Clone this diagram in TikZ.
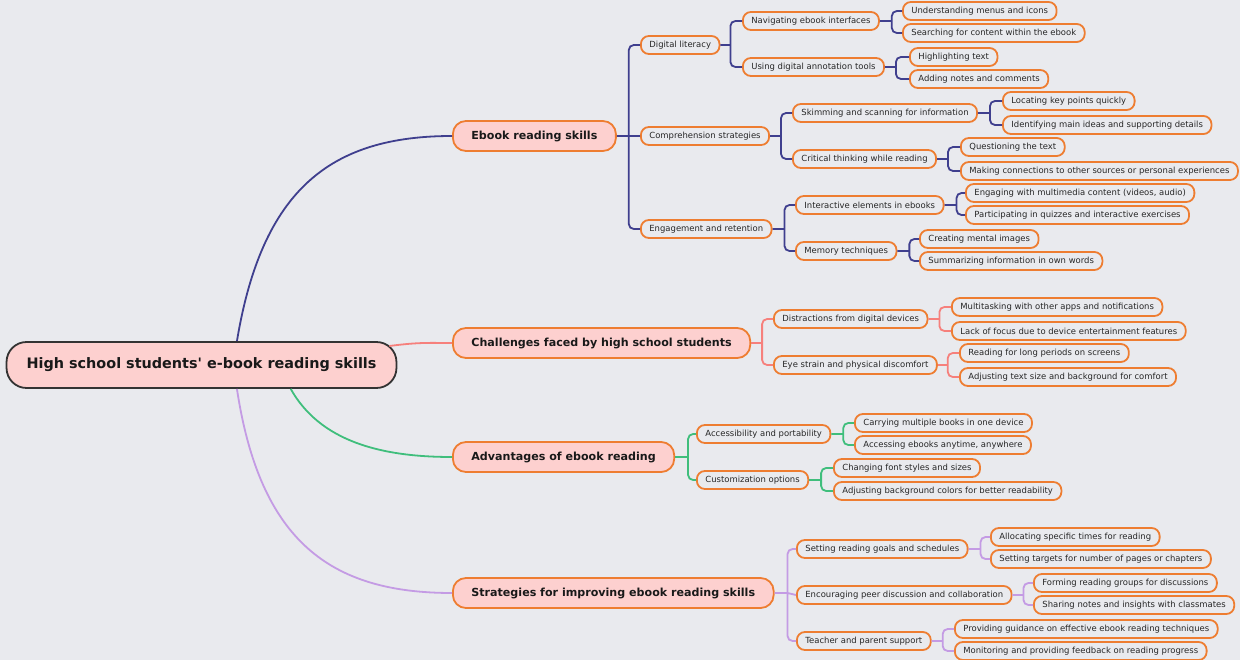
\documentclass[tikz,border=0pt]{standalone}
\usepackage{fontspec}
\setmainfont{DejaVu Sans}
\usetikzlibrary{calc,positioning}
\definecolor{bgc}{HTML}{E9EAEE}
\definecolor{pinkfill}{HTML}{FDD0CF}
\definecolor{orangeln}{HTML}{EE7D31}
\definecolor{rootln}{HTML}{333333}
\definecolor{navyln}{HTML}{3F3F8E}
\definecolor{redln}{HTML}{F6807C}
\definecolor{greenln}{HTML}{3FBE7C}
\definecolor{purpleln}{HTML}{C49BE4}

\begin{document}
\begin{tikzpicture}[x=1pt, y=-1pt,
  rootbox/.style={draw=rootln, line width=1.8pt, fill=pinkfill, rounded corners=20pt, minimum height=46pt, inner xsep=20pt, font=\fontsize{14.4pt}{17pt}\selectfont\bfseries, text=black!90},
  mainbox/.style={draw=orangeln, line width=1.8pt, fill=pinkfill, rounded corners=13pt, minimum height=30pt, inner xsep=18.5pt, anchor=west, font=\fontsize{11.1pt}{13pt}\selectfont\bfseries, text=black!90},
  subbox/.style={draw=orangeln, line width=1.8pt, fill=bgc, rounded corners=8pt, minimum height=18pt, inner ysep=0pt, inner xsep=8.5pt, anchor=west, font=\fontsize{8.45pt}{10pt}\selectfont, text=black!85},
  link/.style={line width=1.8pt, rounded corners=5pt},
  eblink/.style={link, navyln},
  chlink/.style={link, redln},
  adlink/.style={link, greenln},
  stlink/.style={link, purpleln}
]
\fill[bgc] (0,0) rectangle (1240,660);
\useasboundingbox (0,0) rectangle (1240,660);

% centre and main topics
\node[rootbox] (root) at (201.5,365) {High school students\textquotesingle{} e-book reading skills};
\node[mainbox] (ebook) at (452,136) {Ebook reading skills};
\node[mainbox] (chal) at (452,343) {Challenges faced by high school students};
\node[mainbox] (adv) at (452,457) {Advantages of ebook reading};
\node[mainbox] (strat) at (452,593) {Strategies for improving ebook reading skills};

\draw[eblink] (root.34) .. controls (262,190) and (330,136) .. (ebook.west);
\draw[chlink] ($(root.east)+(-8,-19)$) .. controls (420,342) and (430,343) .. (chal.west);
\draw[adlink] (root.-15) .. controls (320,441) and (380,457) .. (adv.west);
\draw[stlink] (root.-34) .. controls (260,541) and (330,593) .. (strat.west);

% ebook reading skills
\node[subbox] (digital) at (640,45) {Digital literacy};
\node[subbox] (comp) at (640,136) {Comprehension strategies};
\node[subbox] (engage) at (640,229) {Engagement and retention};
\node[subbox] (nav) at (742,21) {Navigating ebook interfaces};
\node[subbox] (annot) at (742,67) {Using digital annotation tools};
\node[subbox] (nav1) at (902,11) {Understanding menus and icons};
\node[subbox] (nav2) at (902,33) {Searching for content within the ebook};
\node[subbox] (annot1) at (909,57) {Highlighting text};
\node[subbox] (annot2) at (909,79) {Adding notes and comments};
\node[subbox] (skim) at (792,113) {Skimming and scanning for information};
\node[subbox] (crit) at (792,159) {Critical thinking while reading};
\node[subbox] (skim1) at (1002,101) {Locating key points quickly};
\node[subbox] (skim2) at (1002,125) {Identifying main ideas and supporting details};
\node[subbox] (crit1) at (960,147) {Questioning the text};
\node[subbox] (crit2) at (960,171) {Making connections to other sources or personal experiences};
\node[subbox] (inter) at (795,205) {Interactive elements in ebooks};
\node[subbox] (memo) at (795,251) {Memory techniques};
\node[subbox] (inter1) at (965,193) {Engaging with multimedia content (videos, audio)};
\node[subbox] (inter2) at (965,215) {Participating in quizzes and interactive exercises};
\node[subbox] (memo1) at (919,239) {Creating mental images};
\node[subbox] (memo2) at (919,261) {Summarizing information in own words};

\draw[eblink] (ebook.east) -- ++(12,0) coordinate (ebook-j) (ebook-j) |- (digital.west) (ebook-j) -- (comp.west) (ebook-j) |- (engage.west);
\draw[eblink] (digital.east) -- ++(10,0) coordinate (digital-j) (digital-j) |- (nav.west) (digital-j) |- (annot.west);
\draw[eblink] (nav.east) -- ++(12,0) coordinate (nav-j) (nav-j) |- (nav1.west) (nav-j) |- (nav2.west);
\draw[eblink] (annot.east) -- ++(11,0) coordinate (annot-j) (annot-j) |- (annot1.west) (annot-j) |- (annot2.west);
\draw[eblink] (comp.east) -- ++(11,0) coordinate (comp-j) (comp-j) |- (skim.west) (comp-j) |- (crit.west);
\draw[eblink] (skim.east) -- ++(12,0) coordinate (skim-j) (skim-j) |- (skim1.west) (skim-j) |- (skim2.west);
\draw[eblink] (crit.east) -- ++(11,0) coordinate (crit-j) (crit-j) |- (crit1.west) (crit-j) |- (crit2.west);
\draw[eblink] (engage.east) -- ++(12,0) coordinate (engage-j) (engage-j) |- (inter.west) (engage-j) |- (memo.west);
\draw[eblink] (inter.east) -- ++(12,0) coordinate (inter-j) (inter-j) |- (inter1.west) (inter-j) |- (inter2.west);
\draw[eblink] (memo.east) -- ++(12,0) coordinate (memo-j) (memo-j) |- (memo1.west) (memo-j) |- (memo2.west);

% challenges
\node[subbox] (distr) at (773,319) {Distractions from digital devices};
\node[subbox] (eye) at (773,365) {Eye strain and physical discomfort};
\node[subbox] (distr1) at (951,307) {Multitasking with other apps and notifications};
\node[subbox] (distr2) at (951,331) {Lack of focus due to device entertainment features};
\node[subbox] (eye1) at (959,353) {Reading for long periods on screens};
\node[subbox] (eye2) at (959,377) {Adjusting text size and background for comfort};

\draw[chlink] (chal.east) -- ++(11,0) coordinate (chal-j) (chal-j) |- (distr.west) (chal-j) |- (eye.west);
\draw[chlink] (distr.east) -- ++(11,0) coordinate (distr-j) (distr-j) |- (distr1.west) (distr-j) |- (distr2.west);
\draw[chlink] (eye.east) -- ++(10,0) coordinate (eye-j) (eye-j) |- (eye1.west) (eye-j) |- (eye2.west);

% advantages
\node[subbox] (access) at (696,434) {Accessibility and portability};
\node[subbox] (custom) at (696,480) {Customization options};
\node[subbox] (access1) at (854,423) {Carrying multiple books in one device};
\node[subbox] (access2) at (854,445) {Accessing ebooks anytime, anywhere};
\node[subbox] (custom1) at (833,468) {Changing font styles and sizes};
\node[subbox] (custom2) at (833,491) {Adjusting background colors for better readability};

\draw[adlink] (adv.east) -- ++(13,0) coordinate (adv-j) (adv-j) |- (access.west) (adv-j) |- (custom.west);
\draw[adlink] (access.east) -- ++(12,0) coordinate (access-j) (access-j) |- (access1.west) (access-j) |- (access2.west);
\draw[adlink] (custom.east) -- ++(12,0) coordinate (custom-j) (custom-j) |- (custom1.west) (custom-j) |- (custom2.west);

% strategies
\node[subbox] (goals) at (796,549) {Setting reading goals and schedules};
\node[subbox] (peer) at (796,595) {Encouraging peer discussion and collaboration};
\node[subbox] (support) at (796,641) {Teacher and parent support};
\node[subbox] (goals1) at (990,537) {Allocating specific times for reading};
\node[subbox] (goals2) at (990,559) {Setting targets for number of pages or chapters};
\node[subbox] (peer1) at (1033,583) {Forming reading groups for discussions};
\node[subbox] (peer2) at (1033,605) {Sharing notes and insights with classmates};
\node[subbox] (support1) at (954,629) {Providing guidance on effective ebook reading techniques};
\node[subbox] (support2) at (954,651) {Monitoring and providing feedback on reading progress};

\draw[stlink] (strat.east) -- ++(13,0) coordinate (strat-j) (strat-j) |- (goals.west) (strat-j) -- (peer.west) (strat-j) |- (support.west);
\draw[stlink] (goals.east) -- ++(12,0) coordinate (goals-j) (goals-j) |- (goals1.west) (goals-j) |- (goals2.west);
\draw[stlink] (peer.east) -- ++(11,0) coordinate (peer-j) (peer-j) |- (peer1.west) (peer-j) |- (peer2.west);
\draw[stlink] (support.east) -- ++(11,0) coordinate (support-j) (support-j) |- (support1.west) (support-j) |- (support2.west);
\end{tikzpicture}
\end{document}
